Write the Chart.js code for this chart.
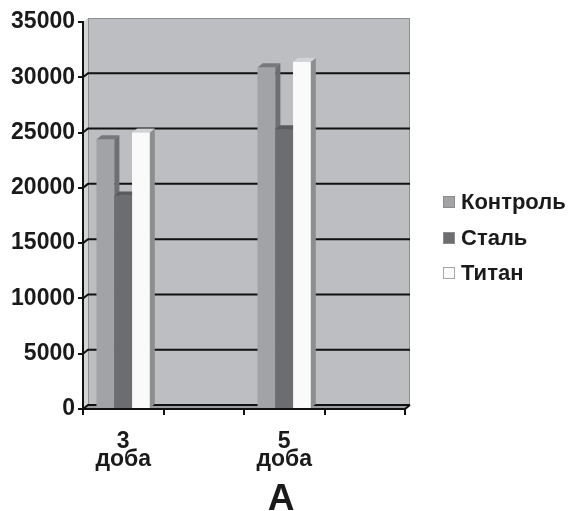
<!DOCTYPE html>
<html>
<head>
<meta charset="utf-8">
<script src="https://cdn.jsdelivr.net/npm/chart.js@4/dist/chart.umd.min.js"></script>
<style>
  html, body { margin: 0; padding: 0; background: #ffffff; }
  #wrap { width: 572px; height: 511px; position: relative; }
</style>
</head>
<body>
<div id="wrap"><canvas id="c"></canvas></div>
<script>
// Categories (days) and series values
const categories = [['3', 'доба'], '', ['5', 'доба'], ''];
const seriesNames = ['Контроль', 'Сталь', 'Титан'];
const control = [24400, null, 30900, null];
const steel = [19300, null, 25300, null];
const titanium = [25000, null, 31400, null];
const yTicks = [0, 5000, 10000, 15000, 20000, 25000, 30000, 35000];
const panelLetter = 'А';

// Face colours for the pseudo-3D columns: front, side, top
const frontColors = ['#a2a3a6', '#6c6d70', '#fafafa'];
const sideColors = ['#6e6f72', '#545558', '#8d8e91'];
const topColors = ['#77787b', '#5a5b5e', '#d2d3d5'];

const DX = 5, DY = 4;           // depth offset of the back wall
const FONT = 'Arial, "Liberation Sans", sans-serif';

// Back wall, side wall, floor and wall gridlines
const wallPlugin = {
  id: 'wall',
  beforeDraw(chart) {
    const { ctx, chartArea: a, scales: { y } } = chart;
    ctx.save();
    // left side wall
    ctx.fillStyle = '#d3d4d6';
    ctx.beginPath();
    ctx.moveTo(a.left, a.top); ctx.lineTo(a.left + DX, a.top - DY);
    ctx.lineTo(a.left + DX, a.bottom - DY); ctx.lineTo(a.left, a.bottom);
    ctx.closePath(); ctx.fill();
    // back wall
    ctx.fillStyle = '#bdbec1';
    ctx.fillRect(a.left + DX, a.top - DY, a.right - a.left, a.bottom - a.top);
    ctx.strokeStyle = '#8e8f92';
    ctx.lineWidth = 1;
    ctx.strokeRect(a.left + DX + 0.5, a.top - DY + 0.5, a.right - a.left - 1, a.bottom - a.top);
    // floor
    ctx.fillStyle = '#9c9da0';
    ctx.beginPath();
    ctx.moveTo(a.left, a.bottom); ctx.lineTo(a.left + DX, a.bottom - DY);
    ctx.lineTo(a.right + DX, a.bottom - DY); ctx.lineTo(a.right, a.bottom);
    ctx.closePath(); ctx.fill();
    // gridlines on side and back wall
    ctx.strokeStyle = '#111111';
    ctx.lineWidth = 2;
    yTicks.forEach(v => {
      if (v === yTicks[yTicks.length - 1]) return;
      const py = y.getPixelForValue(v);
      ctx.beginPath();
      ctx.moveTo(a.left, py);
      ctx.lineTo(a.left + DX, py - DY);
      ctx.lineTo(a.right + DX, py - DY);
      ctx.stroke();
    });
    // right end of the floor edge
    ctx.beginPath();
    ctx.moveTo(a.right, a.bottom);
    ctx.lineTo(a.right + DX, a.bottom - DY);
    ctx.stroke();
    ctx.restore();
  }
};

// Side and top faces of each column, drawn left to right
const depthPlugin = {
  id: 'depth',
  afterDatasetsDraw(chart) {
    const { ctx } = chart;
    ctx.save();
    categories.forEach((_, j) => {
      chart.data.datasets.forEach((ds, i) => {
        if (ds.data[j] == null) return;
        const el = chart.getDatasetMeta(i).data[j];
        el.draw(ctx);
        const xl = el.x - el.width / 2, xr = el.x + el.width / 2;
        const top = el.y, base = el.base;
        ctx.fillStyle = sideColors[i];
        ctx.beginPath();
        ctx.moveTo(xr, top); ctx.lineTo(xr + DX, top - DY);
        ctx.lineTo(xr + DX, base - DY); ctx.lineTo(xr, base);
        ctx.closePath(); ctx.fill();
        ctx.fillStyle = topColors[i];
        ctx.beginPath();
        ctx.moveTo(xl, top); ctx.lineTo(xl + DX, top - DY);
        ctx.lineTo(xr + DX, top - DY); ctx.lineTo(xr, top);
        ctx.closePath(); ctx.fill();
      });
    });
    ctx.restore();
  }
};

// Legend on the right and the panel letter underneath
const annotatePlugin = {
  id: 'annotate',
  afterDraw(chart) {
    const { ctx } = chart;
    ctx.save();
    const rows = [202, 238, 273];
    ctx.font = 'bold 22px ' + FONT;
    ctx.textBaseline = 'middle';
    ctx.textAlign = 'left';
    chart.data.datasets.forEach((ds, i) => {
      const cy = rows[i];
      ctx.fillStyle = ds.backgroundColor;
      ctx.fillRect(443, cy - 6, 12, 12);
      ctx.strokeStyle = i === 2 ? '#a8a8aa' : '#8c8c8f';
      ctx.lineWidth = 1;
      ctx.strokeRect(443.5, cy - 5.5, 11, 11);
      ctx.fillStyle = '#1a1a1a';
      ctx.fillText(ds.label, 461, cy + 1);
    });
    ctx.font = 'bold 37px ' + FONT;
    ctx.textAlign = 'center';
    ctx.textBaseline = 'alphabetic';
    ctx.fillText(panelLetter, 281, 510);
    ctx.restore();
  }
};

new Chart(document.getElementById('c'), {
  type: 'bar',
  data: {
    labels: categories,
    datasets: [
      { label: seriesNames[0], data: control, backgroundColor: frontColors[0] },
      { label: seriesNames[1], data: steel, backgroundColor: frontColors[1] },
      { label: seriesNames[2], data: titanium, backgroundColor: frontColors[2] }
    ]
  },
  options: {
    responsive: true,
    maintainAspectRatio: false,
    animation: false,
    devicePixelRatio: 1,
    layout: { padding: { top: 22, left: 0, right: 167, bottom: 0 } },
    datasets: { bar: { categoryPercentage: 0.66, barPercentage: 1.0, borderWidth: 0 } },
    plugins: { legend: { display: false }, tooltip: { enabled: false }, title: { display: false } },
    scales: {
      x: {
        offset: true,
        grid: { offset: true, drawOnChartArea: false, drawTicks: true, tickLength: 6, color: '#111111', lineWidth: 2 },
        border: { color: '#111111', width: 2 },
        ticks: { color: '#1a1a1a', padding: 17, maxRotation: 0, autoSkip: false,
                 font: { family: FONT, size: 23, weight: 'bold', lineHeight: 0.8 } },
        afterFit(s) { s.height = 102; }
      },
      y: {
        min: 0, max: 35000,
        afterBuildTicks(s) { s.ticks = yTicks.map(v => ({ value: v })); },
        grid: { drawOnChartArea: false, drawTicks: true, tickLength: 5, color: '#111111', lineWidth: 2 },
        border: { color: '#111111', width: 2 },
        ticks: { color: '#1a1a1a', padding: 3, callback: v => String(v),
                 font: { family: FONT, size: 23, weight: 'bold' } },
        afterFit(s) { s.width = 83; }
      }
    }
  },
  plugins: [wallPlugin, depthPlugin, annotatePlugin]
});
</script>
</body>
</html>
